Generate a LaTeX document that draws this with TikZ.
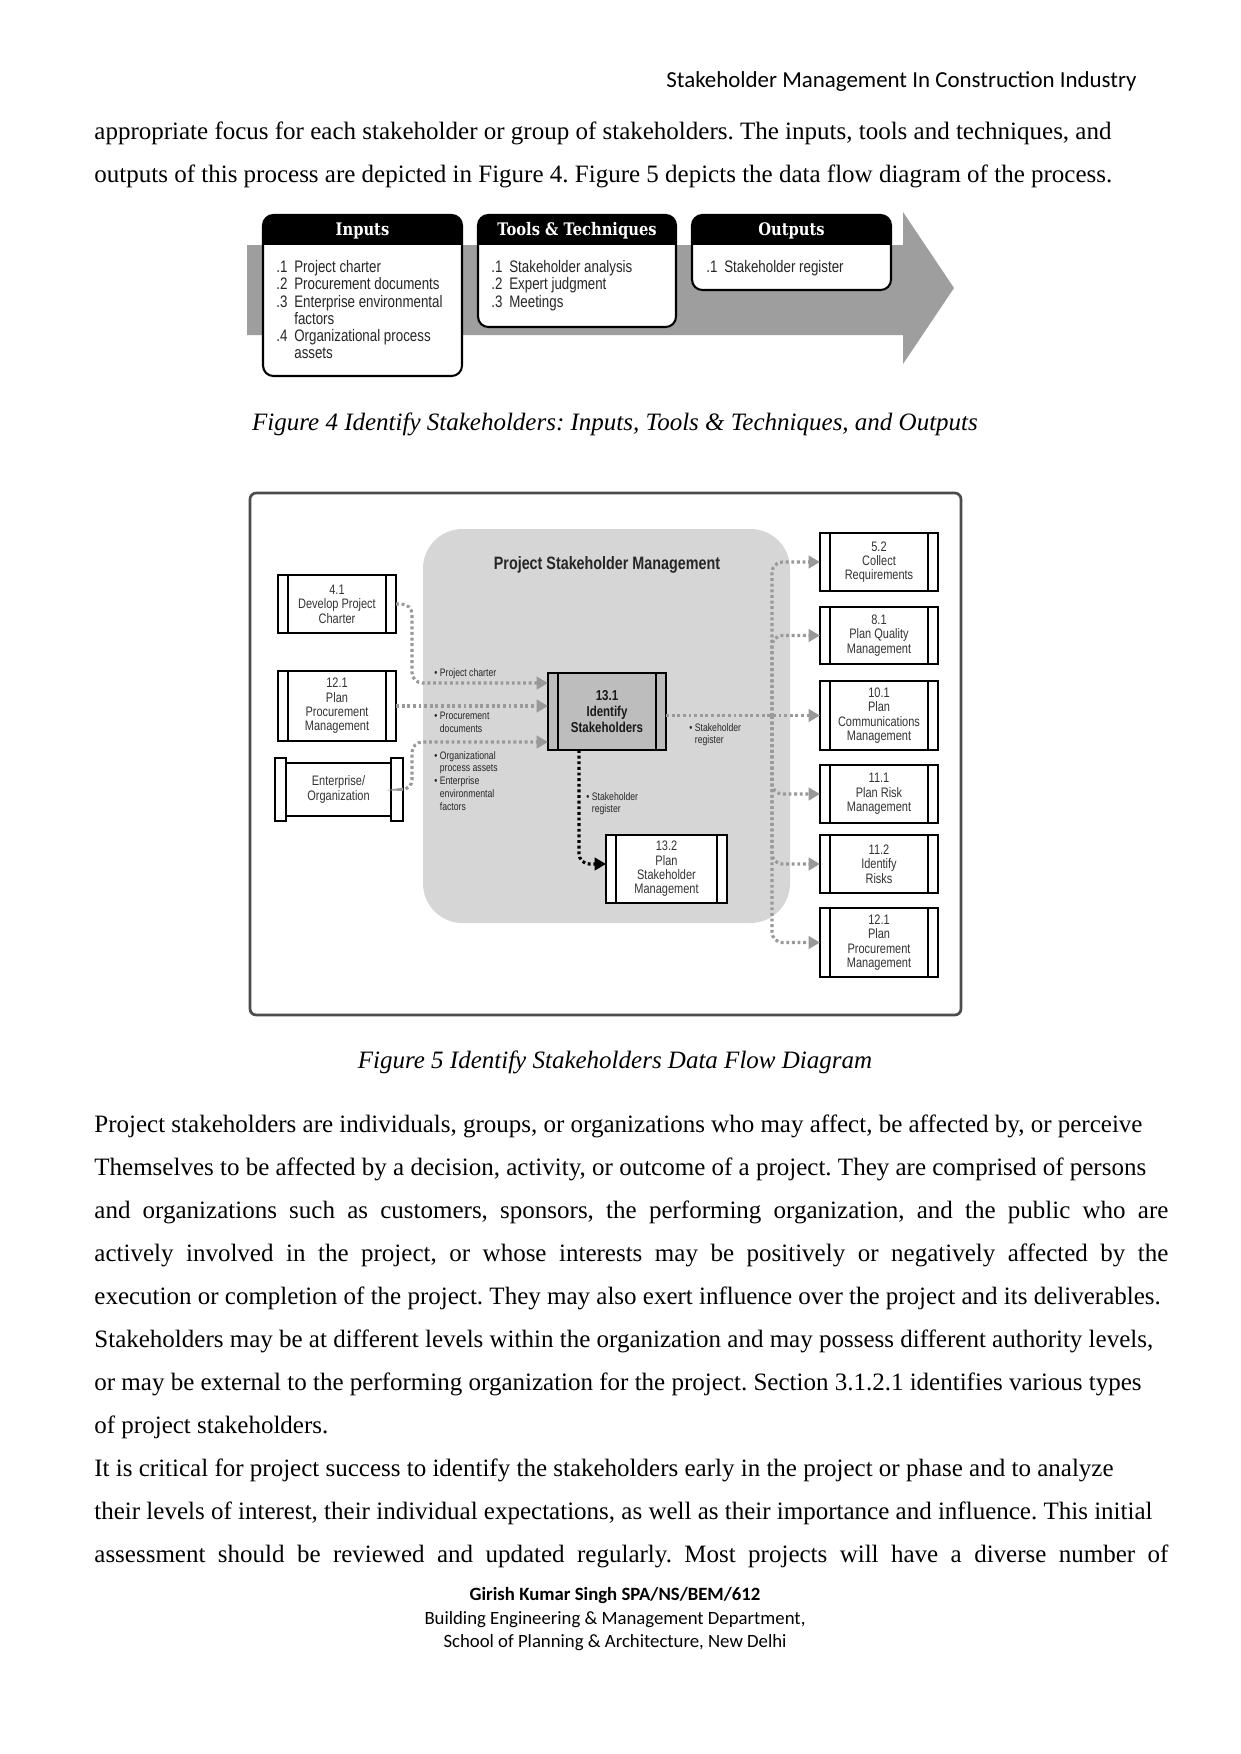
\documentclass[tikz,border=0pt]{standalone}
\usepackage{fontspec}
\setmainfont{Liberation Serif}
\newfontfamily\hdrfont{Carlito}
\newfontfamily\condfont[FakeStretch=0.8]{Liberation Sans}
\newfontfamily\slabfont[FakeStretch=0.85]{DejaVu Serif}
\usetikzlibrary{arrows.meta,calc}
\newcommand\jline[1]{\makebox[515.5pt][s]{#1}}
\frenchspacing
\begin{document}
\begin{tikzpicture}[x=0.48pt,y=-0.48pt,
  body/.style={anchor=base west, inner sep=0, font=\fontsize{12}{14}\selectfont},
  captxt/.style={anchor=base, inner sep=0, font=\itshape\fontsize{12}{14}\selectfont},
  foot/.style={anchor=base, inner sep=0, font=\hdrfont\fontsize{9}{11}\selectfont},
  iobox/.style={fill=white, draw=none, rounded corners=5pt, inner sep=0, outer sep=0},
  iohead/.style={inner sep=0, text=white, font=\slabfont\bfseries\fontsize{8.3}{10}\selectfont},
  fitem/.style={anchor=north west, inner sep=0, align=left, font=\condfont\fontsize{8}{8.3}\selectfont, text=black!85},
  pboxst/.style={draw=black, line width=0.9pt, inner sep=0, outer sep=0, align=center, fill=white,
     font=\condfont\fontsize{6.6}{6.9}\selectfont, text=black!80},
  pline/.style={line width=0.9pt},
  flow/.style={draw=black!40, line width=1.5pt, dash pattern=on 1.4pt off 1.3pt, rounded corners=5pt,
     -{Triangle[length=5.5pt,width=6pt]}},
  blackflow/.style={draw=black, line width=1.5pt, dash pattern=on 1.4pt off 1.3pt, rounded corners=5pt,
     -{Triangle[length=5.5pt,width=6pt]}},
  lbl/.style={anchor=north west, inner sep=0, align=left, font=\condfont\fontsize{5.2}{6.1}\selectfont, text=black!85}
]
\useasboundingbox (0,0) rectangle (1241,1754);
\fill[white] (0,0) rectangle (1241,1754);

% header
\node[anchor=base east, inner sep=0, font=\hdrfont\fontsize{11}{13}\selectfont] (hdr) at (1137,87) {Stakeholder Management In Construction Industry};

% top text
\node[body] (t1) at (94,139) {appropriate focus for each stakeholder or group of stakeholders. The inputs, tools and techniques, and};
\node[body] (t2) at (94,182) {outputs of this process are depicted in Figure 4. Figure 5 depicts the data flow diagram of the process.};

% ---------- Figure 4 ----------
\fill[black!38] (247,245) -- (903,245) -- (903,212) -- (954,288) -- (903,364) -- (903,335) -- (247,335) -- cycle;

\newcommand\iobox[6]{%
  \node[iobox, minimum width={(#4-#2)*0.48pt}, minimum height={(#5-#3)*0.48pt}] (#1) at ({(#2+#4)/2},{(#3+#5)/2}) {};
  \begin{scope}
    \clip[rounded corners=5pt] (#2,#3) rectangle (#4,#5);
    \fill[black] (#2,#3) rectangle (#4,{#3+30});
  \end{scope}
  \draw[line width=1pt, rounded corners=5pt] (#1.north west) rectangle (#1.south east);
  \node[iohead] (#1h) at ({(#2+#4)/2},{#3+16}) {#6};
}
\iobox{inputs}{263}{215}{462}{376}{Inputs}
\iobox{tools}{478}{215}{676}{327}{Tools \& Techniques}
\iobox{outputs}{692}{215}{891}{290}{Outputs}

\node[fitem] (inlist) at (276,260) {\makebox[8.6pt][l]{.1}Project charter\\
\makebox[8.6pt][l]{.2}Procurement documents\\
\makebox[8.6pt][l]{.3}Enterprise environmental\\
\hspace*{8.6pt}factors\\
\makebox[8.6pt][l]{.4}Organizational process\\
\hspace*{8.6pt}assets};
\node[fitem] (toollist) at (491,260) {\makebox[8.6pt][l]{.1}Stakeholder analysis\\
\makebox[8.6pt][l]{.2}Expert judgment\\
\makebox[8.6pt][l]{.3}Meetings};
\node[fitem] (outlist) at (706,260) {\makebox[8.6pt][l]{.1}Stakeholder register};

\node[captxt] (cap4) at (615,430) {Figure 4 Identify Stakeholders: Inputs, Tools \& Techniques, and Outputs};

% ---------- Figure 5 ----------
\draw[line width=1.3pt, draw=black!70, rounded corners=3pt] (250,493) rectangle (961,1015);
\fill[black!16, rounded corners=19pt] (423,529) rectangle (790,923);
\node[inner sep=0, font=\condfont\bfseries\fontsize{8.6}{10}\selectfont, text=black!85] (title) at (607,565) {Project Stakeholder Management};

\newcommand\pbox[7][]{%
  \node[pboxst, #1, minimum width={(#5-#3)*0.48pt}, minimum height={(#6-#4)*0.48pt}] (#2) at ({(#3+#5)/2},{(#4+#6)/2}) {#7};
  \draw[pline] ([xshift=4.7pt]#2.north west) -- ([xshift=4.7pt]#2.south west);
  \draw[pline] ([xshift=-4.7pt]#2.north east) -- ([xshift=-4.7pt]#2.south east);
}
\pbox{n41}{278}{575}{396}{633}{4.1\\Develop Project\\Charter}
\pbox{n121l}{278}{671}{396}{741}{12.1\\Plan\\Procurement\\Management}
\pbox[fill=black!26, text=black!90, font=\condfont\bfseries\fontsize{6.9}{7.6}\selectfont]{n131}{548}{673}{666}{750}{13.1\\Identify\\Stakeholders}
\pbox{n132}{606}{835}{727}{903}{13.2\\Plan\\Stakeholder\\Management}
\pbox{n52}{820}{533}{938}{591}{5.2\\Collect\\Requirements}
\pbox{n81}{820}{607}{938}{664}{8.1\\Plan Quality\\Management}
\pbox{n101}{820}{681}{938}{750}{10.1\\Plan\\Communications\\Management}
\pbox{n111}{820}{765}{938}{823}{11.1\\Plan Risk\\Management}
\pbox{n112}{820}{835}{938}{893}{11.2\\Identify\\Risks}
\pbox{n121r}{820}{908}{938}{977}{12.1\\Plan\\Procurement\\Management}

% Enterprise / Organization (scroll shape)
\node[pboxst, minimum width={105*0.48pt}, minimum height={53*0.48pt}] (ent) at (338.5,789.5) {Enterprise/\\Organization};
\draw[pline, fill=white] (275,758) rectangle (286,821);
\draw[pline, fill=white] (391,758) rectangle (403,821);

% connectors
\coordinate (y683) at (0,683);
\coordinate (y742) at (0,742);
\coordinate (y864) at (0,864);
\coordinate (x579) at (579,0);
\coordinate (bus) at (772,716);
\draw[flow] (n41.east) -- (412,604) -- (412,683) -- (n131.west |- y683);
\draw[flow] (n121l.east) -- (n131.west |- n121l.east);
\draw[flow] ([xshift=5.8pt]ent.east) -- (412,790) -- (412,742) -- (n131.west |- y742);
\draw[flow] (n131.east |- n101.west) -- (n101.west);
\foreach \t in {n52,n81,n111,n112,n121r} \draw[flow] (bus) |- (\t.west);
\draw[blackflow] (x579 |- n131.south) |- (n132.west |- y864);

% labels
\node[lbl] (lpc) at (434,668) {\textbullet\ Project charter};
\node[lbl] (lpd) at (434,712) {\textbullet\ Procurement\\\phantom{\textbullet\ }documents};
\node[lbl] (lop) at (434,751) {\textbullet\ Organizational\\\phantom{\textbullet\ }process assets\\\textbullet\ Enterprise\\\phantom{\textbullet\ }environmental\\\phantom{\textbullet\ }factors};
\node[lbl] (lsr1) at (689,723) {\textbullet\ Stakeholder\\\phantom{\textbullet\ }register};
\node[lbl] (lsr2) at (586,792) {\textbullet\ Stakeholder\\\phantom{\textbullet\ }register};

\node[captxt] (cap5) at (615,1068) {Figure 5 Identify Stakeholders Data Flow Diagram};

% paragraph
\node[body] (p1) at (94,1132) {Project stakeholders are individuals, groups, or organizations who may affect, be affected by, or perceive};
\node[body] (p2) at (94,1175) {Themselves to be affected by a decision, activity, or outcome of a project. They are comprised of persons};
\node[body] (p3) at (94,1218) {\jline{and organizations such as customers, sponsors, the performing organization, and the public who are}};
\node[body] (p4) at (94,1261) {\jline{actively involved in the project, or whose interests may be positively or negatively affected by the}};
\node[body] (p5) at (94,1304) {execution or completion of the project. They may also exert influence over the project and its deliverables.};
\node[body] (p6) at (94,1347) {Stakeholders may be at different levels within the organization and may possess different authority levels,};
\node[body] (p7) at (94,1390) {or may be external to the performing organization for the project. Section 3.1.2.1 identifies various types};
\node[body] (p8) at (94,1433) {of project stakeholders.};
\node[body] (p9) at (94,1476) {It is critical for project success to identify the stakeholders early in the project or phase and to analyze};
\node[body] (p10) at (94,1519) {their levels of interest, their individual expectations, as well as their importance and influence. This initial};
\node[body] (p11) at (94,1562) {\jline{assessment should be reviewed and updated regularly. Most projects will have a diverse number of}};

% footer
\node[foot, font=\hdrfont\bfseries\fontsize{9}{11}\selectfont] (f1) at (615,1600) {Girish Kumar Singh SPA/NS/BEM/612};
\node[foot] (f2) at (615,1624) {Building Engineering \& Management Department,};
\node[foot] (f3) at (615,1647) {School of Planning \& Architecture, New Delhi};
\end{tikzpicture}
\end{document}
